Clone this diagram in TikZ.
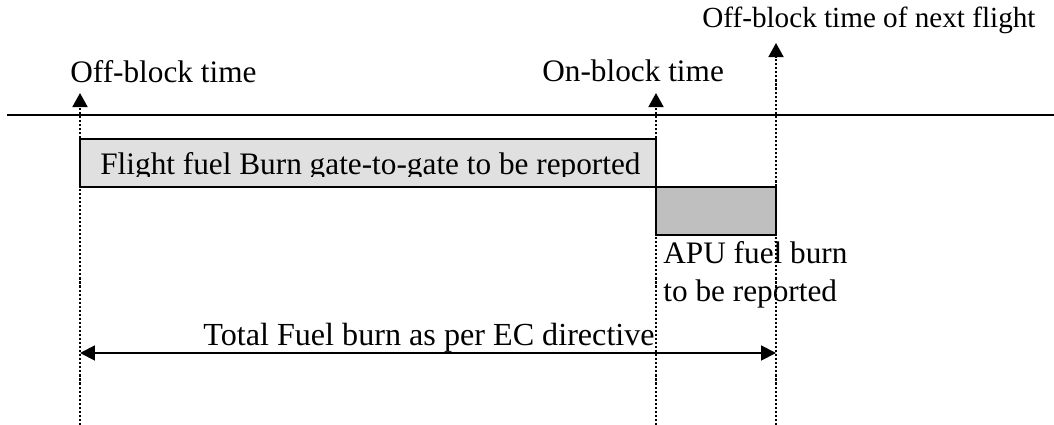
\documentclass[tikz,border=0pt]{standalone}
\usepackage{fontspec}
\setmainfont{Liberation Serif}
\usetikzlibrary{arrows.meta}
\begin{document}
\begin{tikzpicture}[x=0.02cm,y=-0.02cm,
    every node/.style={font=\fontsize{17.8}{21}\selectfont, inner sep=0pt}]

    % parámetros
    \def\xOff{80}     % off-block (x)
    \def\xOn{656}     % on-block (x)
    \def\xNext{776}   % off-block del siguiente vuelo (x)
    \def\yLine{115}   % línea horizontal
    \def\yBot{425}    % final de las líneas punteadas

    % colores
    \definecolor{flightfill}{gray}{0.88} % vuelo gate-to-gate
    \definecolor{apufill}{gray}{0.75}    % APU

    \tikzset{
      timeline/.style={dash pattern=on 1.2pt off 1.1pt, line width=1.2pt},
      tiparrow/.style={-{Triangle[length=8pt,width=8.5pt]}},
    }

    \useasboundingbox (0,0) rectangle (1054,425);

    % --- línea horizontal ---
    \draw[line width=0.75pt] (7,\yLine) -- (1054,\yLine);

    % --- bloques de consumo ---
    \draw[line width=0.8pt, fill=flightfill] (\xOff,139) rectangle (\xOn,187);
    \draw[line width=0.8pt, fill=apufill] (\xOn,187) rectangle (\xNext,235);
    \begin{scope}
      \clip (\xOff,139) rectangle (\xOn,177);
      \node[anchor=base west] (flightlbl) at (100,175) {Flight fuel Burn gate-to-gate to be reported};
    \end{scope}

    % --- etiquetas de tiempo ---
    \node[anchor=base west] (offlbl) at (70,83) {Off-block time};
    \node[anchor=base west] (onlbl) at (542,82) {On-block time};
    \node[anchor=base west, font=\fontsize{16.6}{20}\selectfont] (nextlbl) at (702,28) {Off-block time of next flight};

    % --- líneas punteadas verticales ---
    \coordinate (offTip) at (\xOff,93);
    \coordinate (offBot) at (\xOff,\yBot);
    \coordinate (onTip) at (\xOn,93);
    \coordinate (onBot) at (\xOn,\yBot);
    \coordinate (nextTip) at (\xNext,43);
    \coordinate (nextBot) at (\xNext,\yBot);
    \draw[timeline, tiparrow] (offBot) -- (offTip);
    \draw[timeline, tiparrow] (onBot) -- (onTip);
    \draw[timeline, tiparrow] (nextBot) -- (nextTip);

    % --- APU ---
    \node[anchor=base west] (apulbl) at (663,264) {APU fuel burn};
    \node[anchor=base west] (apulbl2) at (663,301) {to be reported};

    % --- flecha total ---
    \coordinate (totalL) at (\xOff,353);
    \coordinate (totalR) at (\xNext,353);
    \draw[line width=1.1pt, {Triangle[length=8.5pt,width=8.5pt]}-{Triangle[length=8.5pt,width=8.5pt]}] (totalL) -- (totalR);
    \node[anchor=base west, font=\fontsize{18.3}{22}\selectfont] (totallbl) at (203,345) {Total Fuel burn as per EC directive};

\end{tikzpicture}
\end{document}
